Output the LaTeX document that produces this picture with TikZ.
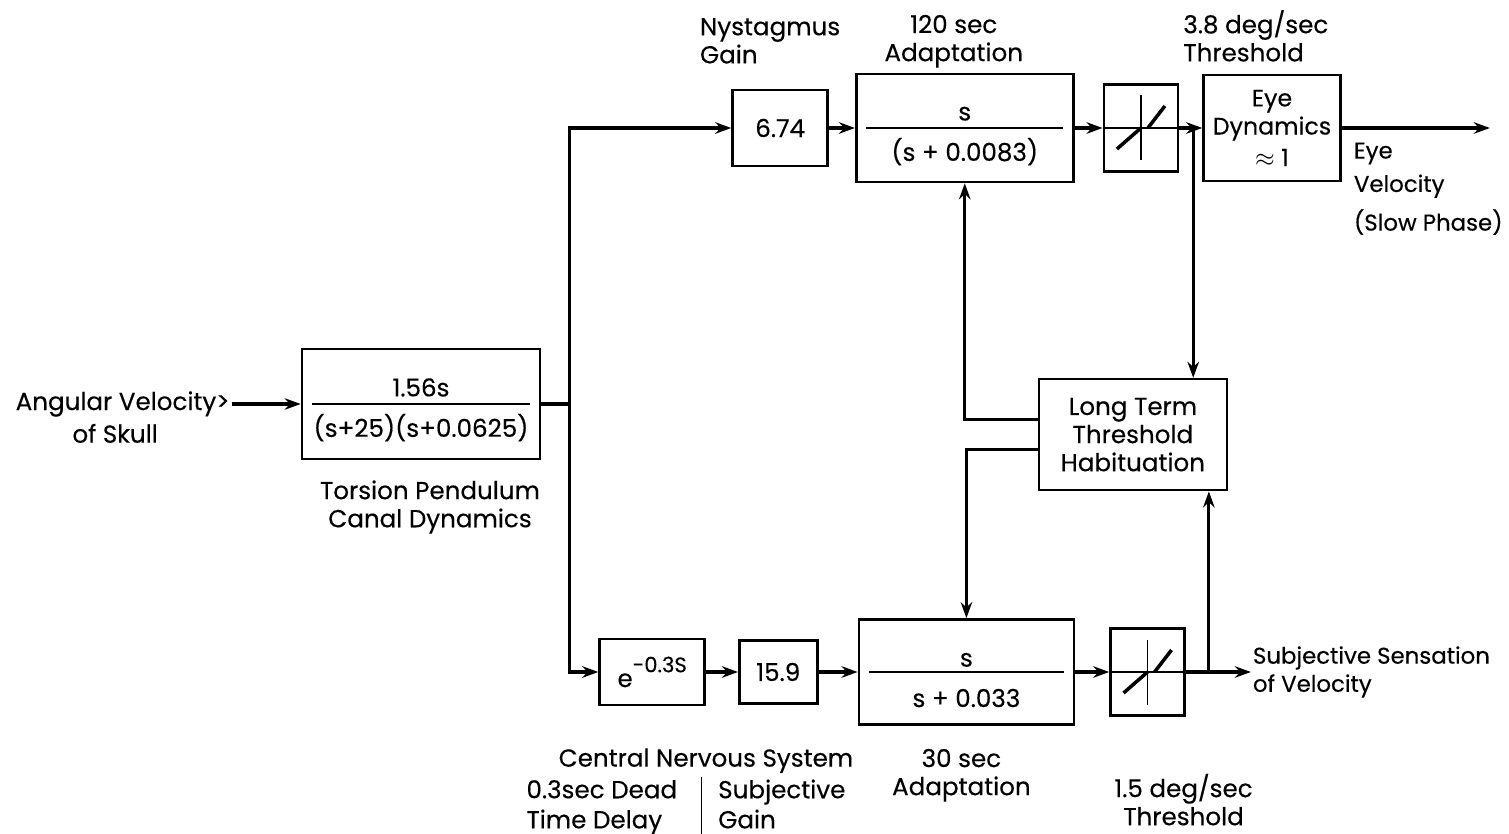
\documentclass[tikz,border=0pt]{standalone}
\usepackage{fontspec}
\setmainfont{Poppins}[FakeBold=0.3]
\usetikzlibrary{arrows.meta,positioning}

\begin{document}
\begin{tikzpicture}[
  font=\fontsize{14}{16}\selectfont,
  block/.style={rectangle, draw, line width=1.5pt, align=center, inner sep=2pt},
  frac/.style={block, path picture={\draw[line width=1.2pt]
      ([xshift=0.2cm]path picture bounding box.west) --
      ([xshift=-0.2cm]path picture bounding box.east);}},
  thr/.style={block, minimum width=1.48cm, minimum height=1.74cm,
      path picture={
        \draw[line width=0.8pt] (path picture bounding box.west) -- (path picture bounding box.east);
        \draw[line width=0.8pt] ([yshift=-0.22cm]path picture bounding box.north) -- ([yshift=0.22cm]path picture bounding box.south);
        \draw[line width=2pt] ([shift={(-0.48,-0.42)}]path picture bounding box.center) -- (path picture bounding box.center);
        \draw[line width=2pt] ([shift={(0.14,0)}]path picture bounding box.center) -- ([shift={(0.48,0.44)}]path picture bounding box.center);}},
  lbl/.style={align=center, inner sep=1pt},
  stream/.style={-{Stealth[length=3.2mm,width=2.3mm]}, line width=1.8pt},
  wire/.style={line width=1.8pt},
]
  \useasboundingbox (-8.42,-8.6) rectangle (21.76,8.08);

  % Canal
  \node[frac, minimum width=4.76cm, minimum height=2.2cm] (tors) {\rule{0pt}{17pt}1.56s\\[7pt](s+25)(s+0.0625)};
  \node[lbl, left=1.38cm of tors] (skullin) {Angular Velocity>};
  \node[lbl, below=0.06cm of skullin, xshift=-0.15cm] (skull) {of Skull};
  \node[lbl, below=0.36cm of tors, xshift=0.18cm] (torslbl) {Torsion Pendulum\\Canal Dynamics};

  \coordinate[right=0.56cm of tors] (split);
  \coordinate[above=5.52cm of split] (ntop);
  \coordinate[below=5.36cm of split] (nbot);

  % Eye path
  \node[block, right=3.24cm of ntop, minimum width=1.9cm, minimum height=1.52cm] (gain) {6.74};
  \node[frac, right=0.52cm of gain, minimum width=4.34cm, minimum height=2.16cm] (adapt120) {\rule{0pt}{17pt}s\\[7pt](s + 0.0083)};
  \node[thr, right=0.56cm of adapt120] (thr1) {};
  \coordinate[right=0.28cm of thr1] (j1);
  \node[block, right=0.46cm of thr1, minimum width=2.74cm, minimum height=2.12cm, font=\fontsize{13.5}{15}\selectfont] (eye) {Eye\\[1pt]Dynamics\\[3pt]$\approx$ 1};
  \coordinate[right=2.96cm of eye] (eyeout);

  \node[lbl, align=left, above=0.46cm of gain, xshift=-0.2cm] (nysglbl) {Nystagmus\\Gain};
  \node[lbl, above=0.06cm of adapt120, xshift=-0.22cm] (a120lbl) {120 sec\\Adaptation};
  \node[lbl, align=left, above=0.2cm of eye.north west, anchor=south west, xshift=-0.42cm] (thr1lbl) {3.8 deg/sec\\Threshold};
  \node[lbl, align=left, below right=0.25cm and 0.2cm of eye.east, font=\fontsize{13}{16}\selectfont] (eyevel) {Eye\\[3pt]Velocity\\[6pt](Slow Phase)};

  % Sensation path
  \node[block, right=0.58cm of nbot, minimum width=2.1cm, minimum height=1.32cm] (delay) {e\raisebox{1.1ex}{\fontsize{12}{14}\selectfont -0.3S}};
  \node[block, right=0.64cm of delay, minimum width=1.56cm, minimum height=1.26cm] (sgain) {15.9};
  \node[frac, right=0.78cm of sgain, minimum width=4.3cm, minimum height=2.1cm] (adapt30) {\rule{0pt}{17pt}s\\[7pt]s + 0.033};
  \node[thr, right=0.68cm of adapt30] (thr2) {};
  \coordinate[right=0.46cm of thr2] (j2);
  \node[lbl, align=left, right=1.3cm of thr2, font=\fontsize{13}{16}\selectfont] (sens) {Subjective Sensation\\of Velocity};

  \node[lbl, below=0.8cm of delay.south east] (cnslbl) {Central Nervous System};
  \node[lbl, below=0.0cm of cnslbl, xshift=-0.4cm] (cnsparts) {\setlength{\arrayrulewidth}{0.8pt}%
    \renewcommand{\arraystretch}{1.07}%
    \begin{tabular}{@{}l@{\hspace{14pt}}|@{\hspace{9pt}}l@{}}0.3sec Dead & Subjective\\Time Delay & Gain\end{tabular}};
  \node[lbl, below=0.42cm of adapt30, xshift=-0.1cm] (a30lbl) {30 sec\\Adaptation};
  \node[lbl, below=1.1cm of thr2, xshift=0.72cm] (thr2lbl) {1.5 deg/sec\\Threshold};

  % Habituation
  \node[block, below=4.1cm of thr1, xshift=-0.16cm, minimum width=3.76cm, minimum height=2.22cm] (hab) {Long Term\\Threshold\\Habituation};

  % Connections
  \draw[stream] (skullin) -- (tors);
  \draw[wire] (tors) -- (split);
  \draw[stream] (split) |- (gain);
  \draw[stream] (split) |- (delay);
  \draw[stream] (gain) -- (adapt120);
  \draw[stream] (adapt120) -- (thr1);
  \draw[stream] (thr1) -- (eye);
  \draw[stream] (eye) -- (eyeout);
  \draw[stream] (delay) -- (sgain);
  \draw[stream] (sgain) -- (adapt30);
  \draw[stream] (adapt30) -- (thr2);
  \draw[stream] (thr2) -- (sens);

  % Habituation loops
  \draw[stream] (j1) -- (j1 |- hab.north);
  \draw[stream] (j2) -- (j2 |- hab.south);
  \draw[stream] ([yshift=0.3cm]hab.west) -| (adapt120);
  \draw[stream] ([yshift=-0.3cm]hab.west) -| (adapt30);

\end{tikzpicture}
\end{document}
